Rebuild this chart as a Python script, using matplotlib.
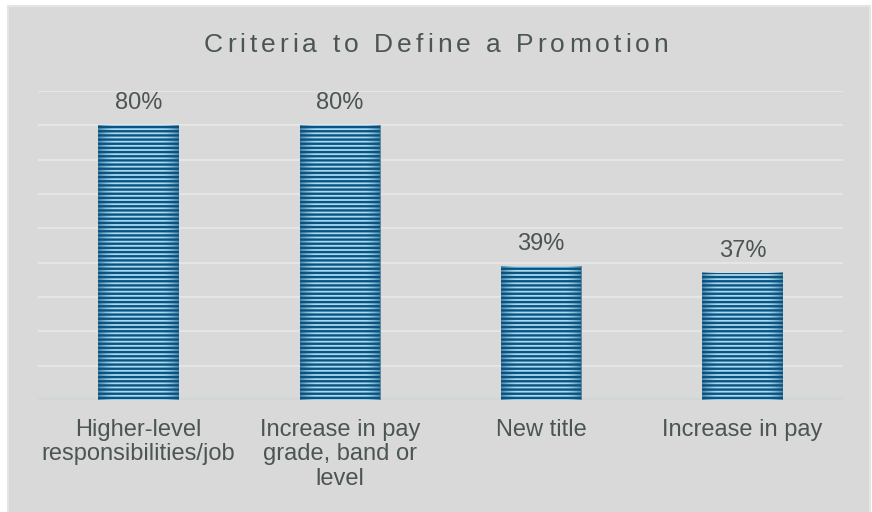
import numpy as np
import matplotlib.pyplot as plt
from matplotlib.colors import to_rgb
from matplotlib.patches import Rectangle
from matplotlib.offsetbox import TextArea, HPacker, AnchoredOffsetbox

# survey results
categories = ["Higher-level\nresponsibilities/job",
              "Increase in pay\ngrade, band or\nlevel",
              "New title",
              "Increase in pay"]
values = [80, 80, 39, 37]
gridlines = list(range(10, 91, 10))
title = "Criteria to Define a Promotion"

TXT = '#4b5651'
DARK = '#0b5482'
LIGHT = '#a8dbf2'

plt.rcParams['font.family'] = ['Liberation Sans', 'DejaVu Sans']
plt.rcParams['hatch.linewidth'] = 1.7

fig = plt.figure(figsize=(8.72, 5.12), dpi=100, facecolor='white')
fig.patches.append(Rectangle((8 / 872, -0.01), 862 / 872, 506 / 512 + 0.01,
                             transform=fig.transFigure, facecolor='#d9d9d9',
                             edgecolor='#e2e6e4', linewidth=1.5, zorder=-5))

ax = fig.add_axes([38 / 872, 1 - 400 / 512, 805 / 872, 309 / 512])
ax.set_facecolor('none')

x = np.arange(len(values))
bars = ax.bar(x, values, width=0.4, color=LIGHT, edgecolor=DARK,
              hatch='----', linewidth=0, zorder=3)

# darker shading toward the left/right edge of each bar
t = np.abs(np.linspace(-1, 1, 200))
shade = np.zeros((1, 200, 4))
shade[..., :3] = to_rgb('#0b4f7a')
shade[..., 3] = np.clip((t - 0.6) / 0.4, 0, 1) ** 1.5 * 0.6
for b in bars:
    ax.imshow(shade, extent=(b.get_x(), b.get_x() + b.get_width(), 0, b.get_height()),
              aspect='auto', interpolation='bilinear', zorder=4)

for xi, v in zip(x, values):
    ax.annotate(f'{v}%', (xi, v), xytext=(0, 11.5), textcoords='offset points',
                ha='center', va='baseline', fontsize=17, color=TXT)

for g in gridlines:
    ax.axhline(g, color='#e5e5e5', lw=1.5, zorder=1)
ax.axhline(0, color='#d0d8d6', lw=3, zorder=2)

ax.set_xlim(-0.5, len(values) - 0.5)
ax.set_ylim(0, 90)
ax.set_yticks([])
ax.set_xticks(x, categories, fontsize=17, color=TXT, linespacing=1.16)
ax.tick_params(axis='x', length=0, pad=13.5)
for s in ax.spines.values():
    s.set_visible(False)

# title with wide letter spacing
chars = [TextArea(c, textprops=dict(fontsize=19, color=TXT)) for c in title]
box = HPacker(children=chars, sep=2.9, pad=0, align='baseline')
fig.add_artist(AnchoredOffsetbox(loc='center', child=box, frameon=False,
                                 bbox_to_anchor=(0.5, 1 - 45 / 512),
                                 bbox_transform=fig.transFigure,
                                 pad=0, borderpad=0))

fig.savefig('out.png', dpi=100, facecolor='white')
